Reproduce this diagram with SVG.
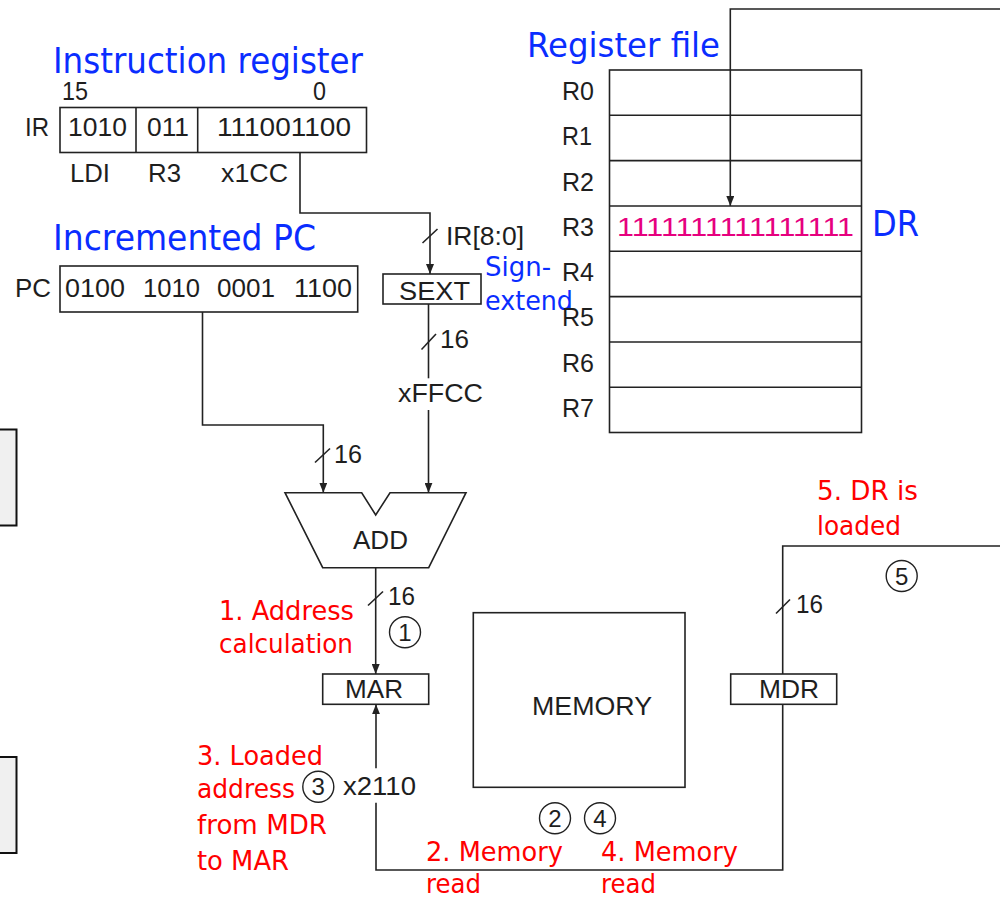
<svg xmlns="http://www.w3.org/2000/svg" width="1000" height="898" viewBox="0 0 1000 898">
<style>
.ln{fill:none;stroke:#222;stroke-width:1.6}
.bx{fill:#fff;stroke:#222;stroke-width:1.6}
.k{font-family:"Liberation Sans",Arial,sans-serif;font-size:26px;fill:#1e1e1e}
.b{font-family:"DejaVu Sans","Liberation Sans",sans-serif;fill:#0a2dff}
.r{font-family:"DejaVu Sans","Liberation Sans",sans-serif;font-size:27px;fill:#ff0000}
.m{font-family:"Liberation Sans",Arial,sans-serif;font-size:26px;fill:#e6007e}
.c{fill:none;stroke:#222;stroke-width:1.4}
.cn{font-family:"Liberation Sans",Arial,sans-serif;font-size:24px;fill:#1e1e1e;text-anchor:middle}
.side{fill:#f0f0f0;stroke:#111;stroke-width:2}
</style>
<defs>
<marker id="ah" markerWidth="10" markerHeight="8" refX="10" refY="4" orient="auto" markerUnits="userSpaceOnUse">
<path d="M0,0 L10,4 L0,8 z" fill="#222"/>
</marker>
</defs>
<rect width="1000" height="898" fill="#fff"/>

<g id="side-boxes">
<rect class="side" x="-3" y="429.5" width="19.5" height="96"/>
<rect class="side" x="-3" y="757" width="19.5" height="96"/>
</g>

<g id="ir">
<text class="b" x="53" y="73" font-size="36" textLength="310" lengthAdjust="spacingAndGlyphs">Instruction register</text>
<text class="k" x="62" y="100" textLength="26" lengthAdjust="spacingAndGlyphs">15</text>
<text class="k" x="313" y="100" textLength="13" lengthAdjust="spacingAndGlyphs">0</text>
<text class="k" x="25" y="136" textLength="24" lengthAdjust="spacingAndGlyphs">IR</text>
<rect class="bx" x="60" y="107.5" width="306.5" height="45"/>
<line class="ln" x1="136" y1="107.5" x2="136" y2="152.5"/>
<line class="ln" x1="197.7" y1="107.5" x2="197.7" y2="152.5"/>
<text class="k" x="68" y="136" textLength="59" lengthAdjust="spacingAndGlyphs">1010</text>
<text class="k" x="147" y="136" textLength="42" lengthAdjust="spacingAndGlyphs">011</text>
<text class="k" x="217" y="136" textLength="134" lengthAdjust="spacingAndGlyphs">111001100</text>
<text class="k" x="70" y="181.5" textLength="40" lengthAdjust="spacingAndGlyphs">LDI</text>
<text class="k" x="148" y="181.5" textLength="33" lengthAdjust="spacingAndGlyphs">R3</text>
<text class="k" x="221" y="181.5" textLength="67" lengthAdjust="spacingAndGlyphs">x1CC</text>
</g>

<g id="pc">
<text class="b" x="53" y="250" font-size="36" textLength="263" lengthAdjust="spacingAndGlyphs">Incremented PC</text>
<text class="k" x="15" y="297" textLength="36" lengthAdjust="spacingAndGlyphs">PC</text>
<rect class="bx" x="60" y="266" width="297.7" height="46"/>
<text class="k" x="65" y="297" textLength="60" lengthAdjust="spacingAndGlyphs">0100</text>
<text class="k" x="143" y="297" textLength="57" lengthAdjust="spacingAndGlyphs">1010</text>
<text class="k" x="217" y="297" textLength="58" lengthAdjust="spacingAndGlyphs">0001</text>
<text class="k" x="294" y="297" textLength="58" lengthAdjust="spacingAndGlyphs">1100</text>
</g>

<g id="sext">
<rect class="bx" x="383" y="274" width="98" height="30"/>
<text class="k" x="399" y="299.5" textLength="71" lengthAdjust="spacingAndGlyphs">SEXT</text>
<text class="b" x="485" y="276" font-size="27" textLength="66" lengthAdjust="spacingAndGlyphs">Sign-</text>
<text class="b" x="485" y="310" font-size="27" textLength="88" lengthAdjust="spacingAndGlyphs">extend</text>
</g>

<g id="regfile">
<text class="b" x="527" y="57" font-size="34" textLength="193" lengthAdjust="spacingAndGlyphs">Register file</text>
<rect class="bx" x="609.5" y="70" width="252" height="362.5"/>
<line class="ln" x1="609.5" y1="115.3" x2="861.5" y2="115.3"/>
<line class="ln" x1="609.5" y1="160.6" x2="861.5" y2="160.6"/>
<line class="ln" x1="609.5" y1="206" x2="861.5" y2="206"/>
<line class="ln" x1="609.5" y1="251.3" x2="861.5" y2="251.3"/>
<line class="ln" x1="609.5" y1="296.6" x2="861.5" y2="296.6"/>
<line class="ln" x1="609.5" y1="342" x2="861.5" y2="342"/>
<line class="ln" x1="609.5" y1="387.3" x2="861.5" y2="387.3"/>
<text class="k" x="562" y="100" textLength="32" lengthAdjust="spacingAndGlyphs">R0</text>
<text class="k" x="562" y="145" textLength="30" lengthAdjust="spacingAndGlyphs">R1</text>
<text class="k" x="562" y="190.5" textLength="32" lengthAdjust="spacingAndGlyphs">R2</text>
<text class="k" x="562" y="235.5" textLength="32" lengthAdjust="spacingAndGlyphs">R3</text>
<text class="k" x="562" y="280.5" textLength="32" lengthAdjust="spacingAndGlyphs">R4</text>
<text class="k" x="562" y="326" textLength="32" lengthAdjust="spacingAndGlyphs">R5</text>
<text class="k" x="562" y="371.5" textLength="32" lengthAdjust="spacingAndGlyphs">R6</text>
<text class="k" x="562" y="416.5" textLength="32" lengthAdjust="spacingAndGlyphs">R7</text>
<text class="m" x="617" y="236" textLength="237" lengthAdjust="spacingAndGlyphs">1111111111111111</text>
<text class="b" x="872" y="236" font-size="35" textLength="47" lengthAdjust="spacingAndGlyphs">DR</text>
</g>

<g id="add">
<polygon class="bx" points="285,492.7 361.7,492.7 375.7,515 390,492.7 466,492.7 428.7,567.7 322.7,567.7"/>
<text class="k" x="353" y="549" textLength="55" lengthAdjust="spacingAndGlyphs">ADD</text>
</g>

<g id="mar">
<rect class="bx" x="322.7" y="674" width="106" height="30.3"/>
<text class="k" x="345" y="698" textLength="58" lengthAdjust="spacingAndGlyphs">MAR</text>
</g>

<g id="memory">
<rect class="bx" x="473.3" y="612.7" width="211.7" height="174.6"/>
<text class="k" x="532" y="715" textLength="120" lengthAdjust="spacingAndGlyphs">MEMORY</text>
</g>

<g id="mdr">
<rect class="bx" x="730.7" y="674" width="106" height="30.3"/>
<text class="k" x="759" y="697.5" textLength="60" lengthAdjust="spacingAndGlyphs">MDR</text>
</g>

<g id="connectors">
<path class="ln" d="M300,152.5 V213 H430 V274" marker-end="url(#ah)"/>
<line class="ln" x1="422.5" y1="243" x2="437.5" y2="229"/>
<text class="k" x="446" y="245" textLength="78" lengthAdjust="spacingAndGlyphs">IR[8:0]</text>

<path class="ln" d="M428.5,304 V378.3"/>
<path class="ln" d="M428.5,410 V492.7" marker-end="url(#ah)"/>
<line class="ln" x1="421.5" y1="349.5" x2="436" y2="334"/>
<text class="k" x="440" y="348" textLength="29" lengthAdjust="spacingAndGlyphs">16</text>
<text class="k" x="398" y="401.5" textLength="85" lengthAdjust="spacingAndGlyphs">xFFCC</text>

<path class="ln" d="M202.5,312 V425 H323.3 V492.7" marker-end="url(#ah)"/>
<line class="ln" x1="315" y1="462.5" x2="330" y2="448.5"/>
<text class="k" x="334" y="462.7" textLength="28" lengthAdjust="spacingAndGlyphs">16</text>

<path class="ln" d="M375.7,567.7 V674" marker-end="url(#ah)"/>
<line class="ln" x1="368" y1="605.5" x2="383" y2="591.5"/>
<text class="k" x="388" y="605" textLength="27" lengthAdjust="spacingAndGlyphs">16</text>

<path class="ln" d="M782.7,704.3 V870 H376 V802.7"/>
<path class="ln" d="M376,768.3 V704.3" marker-end="url(#ah)"/>
<text class="k" x="343" y="794.5" textLength="73" lengthAdjust="spacingAndGlyphs">x2110</text>

<path class="ln" d="M1002,546 H782.7 V674"/>
<line class="ln" x1="776" y1="613.5" x2="790" y2="599.5"/>
<text class="k" x="796" y="613.3" textLength="27" lengthAdjust="spacingAndGlyphs">16</text>

<path class="ln" d="M1002,9 H730.3 V206" marker-end="url(#ah)"/>
</g>

<g id="step-markers">
<circle class="c" cx="405" cy="632.3" r="15.5"/>
<text class="cn" x="405" y="641">1</text>
<circle class="c" cx="555" cy="818.3" r="15.5"/>
<text class="cn" x="555" y="827">2</text>
<circle class="c" cx="318.3" cy="786.7" r="15.5"/>
<text class="cn" x="318.3" y="795.4">3</text>
<circle class="c" cx="600" cy="818.3" r="15.5"/>
<text class="cn" x="600" y="827">4</text>
<circle class="c" cx="901.7" cy="576" r="15.5"/>
<text class="cn" x="901.7" y="584.7">5</text>
</g>

<g id="step-labels">
<text class="r" x="219" y="620" textLength="135" lengthAdjust="spacingAndGlyphs">1. Address</text>
<text class="r" x="219" y="653" textLength="134" lengthAdjust="spacingAndGlyphs">calculation</text>
<text class="r" x="197" y="765" textLength="126" lengthAdjust="spacingAndGlyphs">3. Loaded</text>
<text class="r" x="197" y="798" textLength="98" lengthAdjust="spacingAndGlyphs">address</text>
<text class="r" x="197" y="834" textLength="130" lengthAdjust="spacingAndGlyphs">from MDR</text>
<text class="r" x="197" y="870" textLength="92" lengthAdjust="spacingAndGlyphs">to MAR</text>
<text class="r" x="426" y="861" textLength="137" lengthAdjust="spacingAndGlyphs">2. Memory</text>
<text class="r" x="426" y="893" textLength="55" lengthAdjust="spacingAndGlyphs">read</text>
<text class="r" x="601" y="861" textLength="137" lengthAdjust="spacingAndGlyphs">4. Memory</text>
<text class="r" x="601" y="893" textLength="55" lengthAdjust="spacingAndGlyphs">read</text>
<text class="r" x="817" y="500" textLength="101" lengthAdjust="spacingAndGlyphs">5. DR is</text>
<text class="r" x="817" y="535" textLength="84" lengthAdjust="spacingAndGlyphs">loaded</text>
</g>
</svg>
